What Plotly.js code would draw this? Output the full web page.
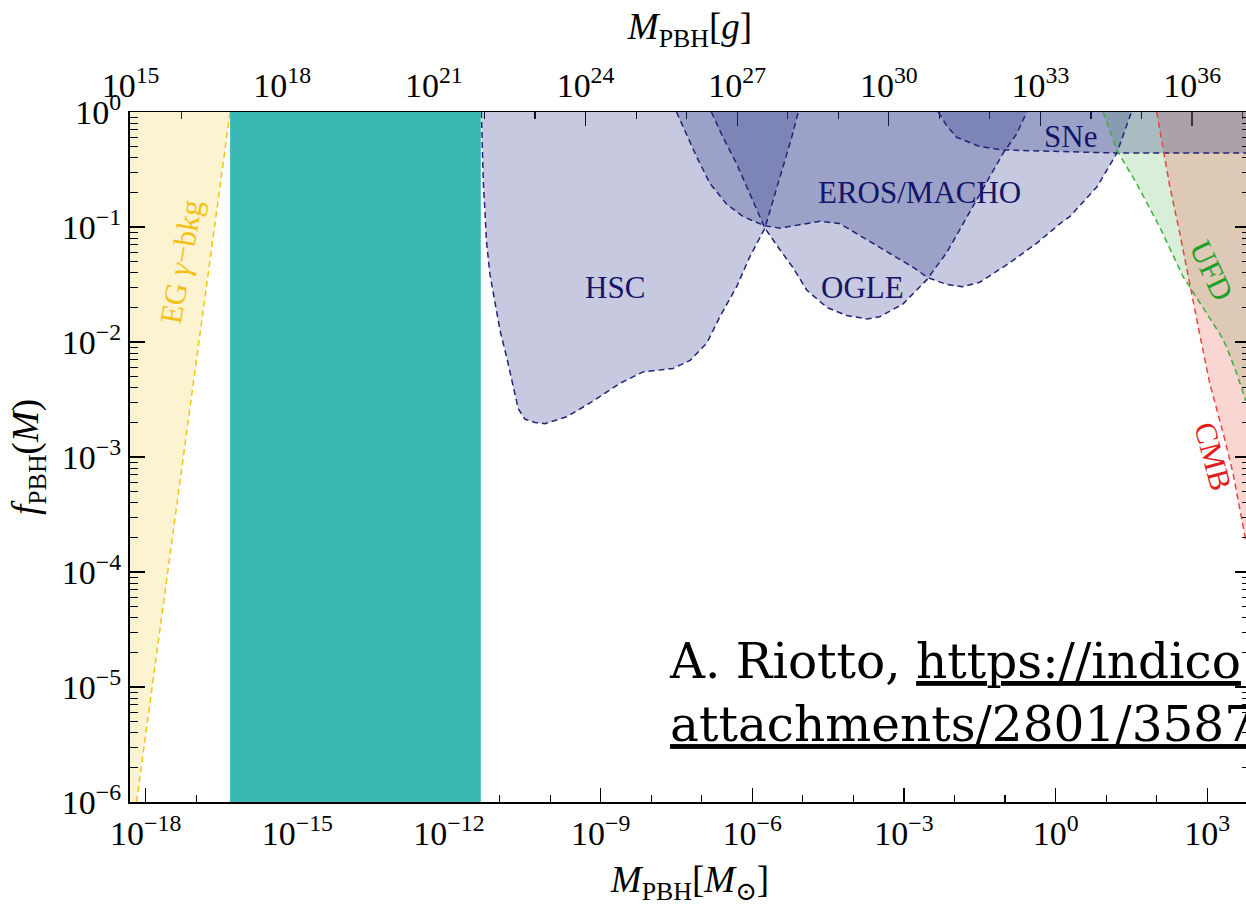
<!DOCTYPE html>
<html><head><meta charset="utf-8">
<script src="https://cdn.plot.ly/plotly-3.0.1.min.js"></script>
<style>html,body{margin:0;padding:0;overflow:hidden;background:#fff}#chart{width:1250px;height:906px}</style>
</head><body><div id="chart"></div>
<script>
// ---- data (log10 of M/M_sun and log10 of f_PBH) ----
const egLogM   = [-18.18, -17.32, -16.33];
const egLogF   = [-6.0, -3.20, 0.0];

const hscLogM  = [-11.36, -11.335, -11.32, -11.29, -11.26, -11.19, -11.09, -10.99, -10.86, -10.73, -10.63, -10.50, -10.30, -10.10, -9.67, -9.21, -8.62, -8.16, -7.57, -7.23, -6.90, -6.64, -6.31, -6.05, -5.75, -5.59, -5.39, -5.22, -5.09];
const hscLogF  = [0, -0.39, -0.62, -0.85, -1.12, -1.41, -1.67, -1.90, -2.13, -2.39, -2.58, -2.67, -2.70, -2.71, -2.65, -2.53, -2.36, -2.26, -2.23, -2.16, -2.01, -1.78, -1.52, -1.26, -1.01, -0.77, -0.48, -0.22, 0];

const erosLogM = [-7.50, -7.30, -7.10, -6.84, -6.51, -6.18, -5.75, -5.45, -5.06, -4.66, -4.27, -3.81, -3.28, -2.82, -2.53, -2.15, -1.85, -1.50, -1.04, -0.84, -0.37, 0.09, 0.28, 0.82, 1.21, 1.50];
const erosLogF = [0, -0.19, -0.39, -0.62, -0.80, -0.91, -0.99, -1.01, -0.98, -0.95, -0.97, -1.09, -1.23, -1.35, -1.44, -1.50, -1.52, -1.48, -1.35, -1.29, -1.14, -0.97, -0.91, -0.65, -0.36, 0];

const ogleLogM = [-6.81, -6.58, -6.31, -6.05, -5.75, -5.45, -5.20, -4.92, -4.52, -4.13, -3.73, -3.48, -3.02, -2.82, -2.55, -2.15, -1.70, -1.30, -1.04, -0.77, -0.57];
const ogleLogF = [0, -0.22, -0.45, -0.71, -1.01, -1.20, -1.35, -1.55, -1.70, -1.77, -1.80, -1.78, -1.67, -1.58, -1.46, -1.22, -0.87, -0.57, -0.36, -0.19, 0];

const sneLogM  = [-2.32, -2.16, -1.96, -1.50, -1.04, -0.37, 1.13, 4.0];
const sneLogF  = [0, -0.115, -0.22, -0.30, -0.33, -0.34, -0.356, -0.356];

const ufdLogM  = [0.94, 1.21, 1.60, 2.06, 2.52, 2.92, 3.25, 3.38, 3.58, 3.76];
const ufdLogF  = [0, -0.33, -0.62, -1.00, -1.43, -1.70, -1.93, -2.04, -2.27, -2.51];

const cmbLogM  = [2.00, 2.13, 2.26, 2.46, 2.66, 2.85, 3.05, 3.32, 3.51, 3.76];
const cmbLogF  = [0, -0.33, -0.65, -1.06, -1.52, -1.93, -2.36, -2.80, -3.14, -3.72];

const tealBandLogM = [-16.33, -11.37];

const xTickExp  = [-18, -15, -12, -9, -6, -3, 0, 3];
const gTickExp  = [15, 18, 21, 24, 27, 30, 33, 36];
const yTickExp  = [-6, -5, -4, -3, -2, -1, 0];

const LOG10_G_PER_MSUN = Math.log10(1.989e33);

// ---- helpers ----
const p10 = a => a.map(v => Math.pow(10, v));
const expLabel = e => '10<sup>' + (e < 0 ? '\u2212' + (-e) : e) + '</sup>';
const SERIF = '"Liberation Serif", "DejaVu Serif", serif';
const NAVY_TEXT = 'rgb(20,20,105)';
const NAVY_LINE = 'rgb(35,35,120)';
const BLUE_FILL = 'rgba(45,55,135,0.27)';
const DASH = '6px,4px';
const OFF_LEFT = 1e-19, OFF_RIGHT = 1e4;

const xRange = [-18.31, 3.846];
const yRange = [-6, 0];
const gRange = xRange.map(v => v + LOG10_G_PER_MSUN);

function fillTrace(x, y, color) {
  return {type: 'scatter', mode: 'lines', x: x, y: y, fill: 'toself', fillcolor: color,
          line: {width: 0}, hoverinfo: 'skip', showlegend: false};
}
function lineTrace(lm, lf, color) {
  return {type: 'scatter', mode: 'lines', x: p10(lm), y: p10(lf),
          line: {color: color, width: 1.5, dash: DASH}, hoverinfo: 'skip', showlegend: false};
}

const fYmin = Math.pow(10, yRange[0]), fYmax = Math.pow(10, yRange[1]);

const traces = [
  // fills
  fillTrace([OFF_LEFT, ...p10(egLogM), OFF_LEFT], [Math.pow(10, egLogF[0]), ...p10(egLogF), Math.pow(10, egLogF[egLogF.length - 1])], 'rgba(240,200,40,0.22)'),
  fillTrace(p10(hscLogM), p10(hscLogF), BLUE_FILL),
  fillTrace(p10(erosLogM), p10(erosLogF), BLUE_FILL),
  fillTrace(p10(ogleLogM), p10(ogleLogF), BLUE_FILL),
  fillTrace([...p10(ufdLogM), OFF_RIGHT, OFF_RIGHT], [...p10(ufdLogF), Math.pow(10, ufdLogF[ufdLogF.length - 1]), fYmax], 'rgba(60,170,60,0.2)'),
  fillTrace([...p10(cmbLogM), OFF_RIGHT, OFF_RIGHT], [...p10(cmbLogF), Math.pow(10, cmbLogF[cmbLogF.length - 1]), fYmax], 'rgba(235,90,80,0.25)'),
  fillTrace([...p10(sneLogM), OFF_RIGHT], [...p10(sneLogF), fYmax], BLUE_FILL),
  // dashed boundaries
  lineTrace(egLogM, egLogF, 'rgb(245,196,20)'),
  lineTrace(hscLogM, hscLogF, NAVY_LINE),
  lineTrace(erosLogM, erosLogF, NAVY_LINE),
  lineTrace(ogleLogM, ogleLogF, NAVY_LINE),
  lineTrace(sneLogM, sneLogF, NAVY_LINE),
  lineTrace(ufdLogM, ufdLogF, 'rgb(60,175,60)'),
  lineTrace(cmbLogM, cmbLogF, 'rgb(232,70,60)'),
  // teal band
  fillTrace(p10([tealBandLogM[0], tealBandLogM[1], tealBandLogM[1], tealBandLogM[0]]),
            [fYmin, fYmin, fYmax, fYmax], 'rgb(58,184,179)'),
  // empty trace so the top (grams) axis is laid out
  {type: 'scatter', mode: 'lines', x: [], y: [], xaxis: 'x2', yaxis: 'y', hoverinfo: 'skip', showlegend: false}
];

// minor tick positions
const xMinor = [], gMinor = [], yMinor = [];
for (let e = -19; e <= 4; e++) if (!xTickExp.includes(e)) xMinor.push(Math.pow(10, e));
for (let e = 14; e <= 38; e++) if (!gTickExp.includes(e)) gMinor.push(Math.pow(10, e));
for (let e = -6; e < 0; e++) for (let k = 2; k <= 9; k++) yMinor.push(k * Math.pow(10, e));

const tickFont = {family: SERIF, size: 34, color: '#000'};
const titleFont = {family: SERIF, size: 37, color: '#000'};
const labelFont = c => ({family: SERIF, size: 31, color: c});

const layout = {
  width: 1250, height: 906,
  margin: {l: 130, r: 0, t: 112, b: 104},
  paper_bgcolor: '#fff', plot_bgcolor: 'rgba(0,0,0,0)',
  showlegend: false, hovermode: false,
  xaxis: {
    type: 'log', range: xRange, showgrid: false, zeroline: false,
    showline: true, linecolor: '#000', linewidth: 2, layer: 'below traces',
    tickmode: 'array', tickvals: p10(xTickExp), ticktext: xTickExp.map(expLabel),
    ticks: 'inside', ticklen: 14, tickwidth: 1.3, tickcolor: '#000', tickfont: tickFont,
    minor: {tickmode: 'array', tickvals: xMinor, ticks: 'inside', ticklen: 7, tickwidth: 1.1, tickcolor: '#000'},
    title: {text: '<i>M</i><sub>PBH</sub>[<i>M</i><sub>\u2299</sub>]', font: titleFont, standoff: 16}
  },
  xaxis2: {
    type: 'log', range: gRange, overlaying: 'x', side: 'top', anchor: 'y',
    showgrid: false, zeroline: false, showline: true, linecolor: '#000', linewidth: 1.5, layer: 'below traces',
    tickmode: 'array', tickvals: p10(gTickExp), ticktext: gTickExp.map(expLabel),
    ticks: 'inside', ticklen: 14, tickwidth: 1.3, tickcolor: '#000', tickfont: tickFont,
    minor: {tickmode: 'array', tickvals: gMinor, ticks: 'inside', ticklen: 7, tickwidth: 1.1, tickcolor: '#000'},
    title: {text: '<i>M</i><sub>PBH</sub>[<i>g</i>]', font: titleFont, standoff: 10}
  },
  yaxis: {
    type: 'log', range: yRange, showgrid: false, zeroline: false,
    showline: true, linecolor: '#000', linewidth: 2, mirror: 'ticks',
    tickmode: 'array', tickvals: p10(yTickExp), ticktext: yTickExp.map(expLabel),
    ticks: 'inside', ticklen: 15, tickwidth: 1.3, tickcolor: '#000', tickfont: tickFont,
    minor: {tickmode: 'array', tickvals: yMinor, ticks: 'inside', ticklen: 8, tickwidth: 1.1, tickcolor: '#000'},
    title: {text: '<i>f</i><sub>PBH</sub>(<i>M</i>)', font: titleFont, standoff: 12}
  },
  annotations: [
    {text: 'HSC', x: -8.72, y: -1.524, xref: 'x', yref: 'y', showarrow: false, font: labelFont(NAVY_TEXT)},
    {text: 'EROS/MACHO', x: -2.70, y: -0.698, xref: 'x', yref: 'y', showarrow: false, font: labelFont(NAVY_TEXT)},
    {text: 'OGLE', x: -3.82, y: -1.524, xref: 'x', yref: 'y', showarrow: false, font: labelFont(NAVY_TEXT)},
    {text: 'SNe', x: 0.30, y: -0.211, xref: 'x', yref: 'y', showarrow: false, font: labelFont(NAVY_TEXT)},
    {text: 'EG <i>\u03b3</i>\u2212bkg', x: -17.29, y: -1.304, xref: 'x', yref: 'y', showarrow: false, textangle: -80, font: labelFont('rgb(245,192,20)')},
    {text: 'UFD', x: 3.09, y: -1.376, xref: 'x', yref: 'y', showarrow: false, textangle: 65, font: labelFont('rgb(30,160,40)')},
    {text: 'CMB', x: 3.12, y: -2.993, xref: 'x', yref: 'y', showarrow: false, textangle: 75, font: labelFont('rgb(225,30,30)')},
    {text: 'A. Riotto, <u>https://indico</u><br><u>attachments/2801/3587</u>', xref: 'paper', yref: 'paper',
     x: 0.4795, y: 0.158, xanchor: 'left', yanchor: 'middle', align: 'left', showarrow: false,
     font: {family: '"DejaVu Serif", serif', size: 48.5, color: '#000'}}
  ]
};

Plotly.newPlot('chart', traces, layout, {displayModeBar: false, staticPlot: true});
</script>
</body></html>
